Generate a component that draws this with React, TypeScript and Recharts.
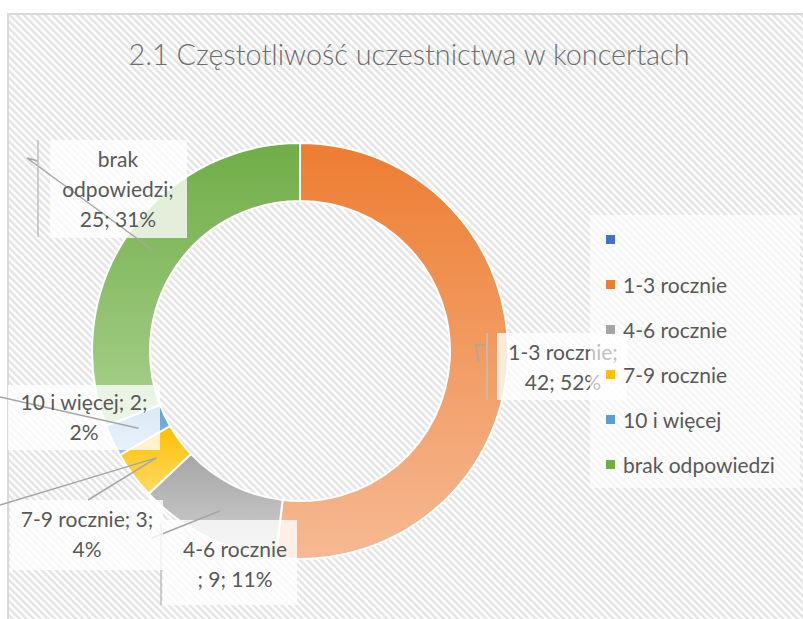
import { Legend, Pie, PieChart, Cell } from "recharts";

const categories = ["", "1-3 rocznie", "4-6 rocznie", "7-9 rocznie", "10 i więcej", "brak odpowiedzi"];
const counts = [0, 42, 9, 3, 2, 25];
const labelLines = [
  [],
  ["1-3 rocznie;", "42; 52%"],
  ["4-6 rocznie", "; 9; 11%"],
  ["7-9 rocznie; 3;", "4%"],
  ["10 i więcej; 2;", "2%"],
  ["brak", "odpowiedzi;", "25; 31%"],
];

const baseColors = ["#4472C4", "#ED7D31", "#A5A5A5", "#FFC000", "#5B9BD5", "#70AD47"];
const lightColors = ["#8FAADC", "#F6B993", "#D2D2D2", "#FFD966", "#9DC3E6", "#A9D18E"];

// where Excel dropped each data label box and its leader line
const labelLayout: Record<number, { box: number[]; cx: number; y0: number; ends: number[][]; extra?: number[][] }> = {
  1: { box: [497, 333, 130, 67], cx: 563, y0: 360, ends: [[476, 345], [487, 345]], extra: [[487, 333], [487, 400]] },
  2: { box: [163, 520, 134, 85], cx: 235, y0: 557, ends: [[152, 538]], extra: [[161, 523], [161, 605]] },
  3: { box: [10, 500, 153, 70], cx: 87, y0: 527, ends: [[0, 505]], extra: [[88, 500], [-1, -1]] },
  4: { box: [8, 385, 152, 65], cx: 84, y0: 410, ends: [[0, 397]] },
  5: { box: [50, 140, 137, 98], cx: 118, y0: 167, ends: [[27, 158], [38, 161]], extra: [[38, 140], [38, 237]] },
};

const FONT = "Lato, 'Open Sans', sans-serif";
const TEXT = "#595959";
const RAD = Math.PI / 180;

function renderLabel(props: any) {
  const { cx, cy, midAngle, innerRadius, outerRadius, index } = props;
  const layout = labelLayout[index];
  if (!layout) return <g />;
  const r = (innerRadius + outerRadius) / 2;
  const sx = cx + r * Math.cos(-midAngle * RAD);
  const sy = cy + r * Math.sin(-midAngle * RAD);
  const pts = [[sx, sy], ...layout.ends].map((p) => p.join(",")).join(" ");
  const [bx, by, bw, bh] = layout.box;
  let extra = null;
  if (layout.extra) {
    const [a, b] = layout.extra;
    extra =
      b[0] < 0 ? (
        <line x1={sx} y1={sy} x2={a[0]} y2={a[1]} stroke="#A6A6A6" strokeWidth={1.5} />
      ) : (
        <line x1={a[0]} y1={a[1]} x2={b[0]} y2={b[1]} stroke="#BFBFBF" strokeWidth={1.5} />
      );
  }
  return (
    <g key={`lbl-${index}`}>
      <rect x={bx} y={by} width={bw} height={bh} fill="#FFFFFF" fillOpacity={0.78} />
      <polyline points={pts} fill="none" stroke="#A6A6A6" strokeWidth={1.5} />
      {extra}
      {labelLines[index].map((t, i) => (
        <text key={i} x={layout.cx} y={layout.y0 + i * 30} textAnchor="middle" fontFamily={FONT} fontSize={21} fill={TEXT}>
          {t}
        </text>
      ))}
    </g>
  );
}

function LegendBox() {
  return (
    <div style={{ width: 210, height: 273, background: "rgba(255,255,255,0.62)", position: "relative" }}>
      {categories.map((c, i) => (
        <div
          key={i}
          style={{ position: "absolute", left: 16, top: 13 + i * 45, height: 22, display: "flex", alignItems: "center", fontFamily: FONT, fontSize: 21, color: TEXT, whiteSpace: "nowrap" }}
        >
          <span style={{ display: "inline-block", width: 9, height: 9, background: baseColors[i], marginRight: 8 }} />
          {c}
        </div>
      ))}
    </div>
  );
}

export default function App() {
  const data = categories.map((name, i) => ({ name, value: counts[i] }));
  return (
    <div style={{ position: "absolute", left: 0, top: 0, width: 803, height: 619, background: "#FFFFFF", overflow: "hidden" }}>
      <svg width={803} height={619} style={{ position: "absolute", left: 0, top: 0 }}>
        <defs>
          <pattern id="hatch" width={5} height={5} patternUnits="userSpaceOnUse" patternTransform="rotate(-45)">
            <rect width={5} height={5} fill="#FFFFFF" />
            <rect width={2.5} height={5} fill="#E4E4E4" />
          </pattern>
        </defs>
        <rect x={8} y={14} width={820} height={640} fill="url(#hatch)" stroke="#D9D9D9" strokeWidth={2} />
        <text x={409} y={65} textAnchor="middle" fontFamily={FONT} fontWeight={300} fontSize={29} fill="#6E6E6E" textLength={561} lengthAdjust="spacingAndGlyphs">
          2.1 Częstotliwość uczestnictwa w koncertach
        </text>
      </svg>
      <div style={{ position: "absolute", left: 0, top: 0 }}>
        <PieChart width={803} height={619} margin={{ top: 0, right: 0, bottom: 0, left: 0 }}>
          <defs>
            {baseColors.map((c, i) => (
              <linearGradient key={i} id={`grad${i}`} x1="0" y1="0" x2="0" y2="1">
                <stop offset="0%" stopColor={c} />
                <stop offset="100%" stopColor={lightColors[i]} />
              </linearGradient>
            ))}
          </defs>
          <Pie
            data={data}
            dataKey="value"
            nameKey="name"
            cx={300}
            cy={351}
            innerRadius={150}
            outerRadius={208}
            startAngle={90}
            endAngle={-270}
            stroke="#FFFFFF"
            strokeWidth={2}
            label={renderLabel}
            labelLine={false}
            isAnimationActive={false}
          >
            {data.map((_, i) => (
              <Cell key={i} fill={`url(#grad${i})`} />
            ))}
          </Pie>
          <Legend
            layout="vertical"
            align="right"
            verticalAlign="middle"
            content={() => <LegendBox />}
            wrapperStyle={{ left: 590, top: 215, width: 210, height: 273, right: "auto", bottom: "auto" }}
          />
        </PieChart>
      </div>
    </div>
  );
}
